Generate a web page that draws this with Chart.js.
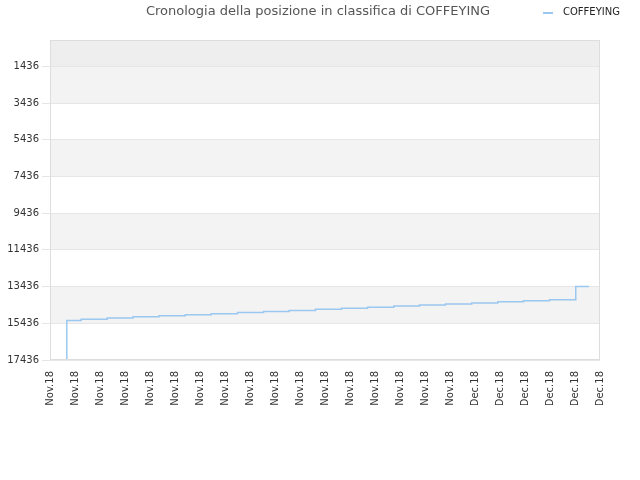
<!DOCTYPE html>
<html><head><meta charset="utf-8">
<script src="https://cdn.jsdelivr.net/npm/chart.js@4"></script>
<style>body{margin:0;background:#fff}</style>
</head><body><canvas id="c" width="640" height="480"></canvas>
<script>
const titleText = 'Cronologia della posizione in classifica di COFFEYING';
const xLabels = ["Nov.18","Nov.18","Nov.18","Nov.18","Nov.18","Nov.18","Nov.18","Nov.18","Nov.18","Nov.18","Nov.18","Nov.18","Nov.18","Nov.18","Nov.18","Nov.18","Nov.18","Dec.18","Dec.18","Dec.18","Dec.18","Dec.18","Dec.18"];
const xPos = [0.672,0.672,1.244,2.288,3.32,4.36,5.41,6.45,7.5,8.54,9.57,10.62,11.66,12.7,13.75,14.78,15.82,16.87,17.91,18.94,19.98,21.03,21.56];
const ranks = [17436,15357,15280,15220,15144,15084,15030,14970,14910,14850,14795,14735,14675,14620,14560,14500,14440,14385,14325,14265,14205,14150,13436];
const yTicks = [1436,3436,5436,7436,9436,11436,13436,15436,17436];
const bands = [[1,1436,'#eeeeee'],[1436,3436,'#f3f3f3'],[5436,7436,'#f3f3f3'],[9436,11436,'#f3f3f3'],[13436,15436,'#f3f3f3']];
const bandPlugin = {id:'bands',beforeDraw(ch){const {ctx,chartArea:a,scales:{y}}=ch;ctx.save();
 for(const [f,t,c] of bands){const p1=y.getPixelForValue(f),p2=y.getPixelForValue(t);ctx.fillStyle=c;ctx.fillRect(a.left,Math.min(p1,p2),a.right-a.left,Math.abs(p2-p1));}
 ctx.restore();},
 afterDraw(ch){const {ctx,chartArea:a}=ch;ctx.save();ctx.strokeStyle='#dddddd';ctx.lineWidth=1;ctx.strokeRect(a.left+0.5,a.top+0.5,a.right-a.left-1,a.bottom-a.top-1);
 ctx.fillStyle='#555';ctx.font='13px "DejaVu Sans"';ctx.textAlign='center';ctx.textBaseline='middle';ctx.fillText(titleText,318,12);
 ctx.strokeStyle='#9ac8f0';ctx.lineWidth=2;ctx.beginPath();ctx.moveTo(543,13);ctx.lineTo(553,13);ctx.stroke();
 ctx.fillStyle='#222';ctx.font='10px "DejaVu Sans"';ctx.textAlign='left';ctx.fillText(ch.data.datasets[0].label,563,12);
 ctx.restore();}};
new Chart(document.getElementById('c'),{type:'line',
data:{datasets:[{label:'COFFEYING',data:xPos.map((x,i)=>({x,y:ranks[i]})),borderColor:'#9ac8f0',backgroundColor:'#9ac8f0',borderWidth:1.5,pointRadius:0,stepped:'after',fill:false}]},
options:{responsive:false,animation:false,devicePixelRatio:1,
 layout:{padding:{left:0,right:40,top:40,bottom:75}},
 plugins:{title:{display:false},legend:{display:false},tooltip:{enabled:false}},
 scales:{x:{type:'linear',min:0,max:22,grid:{display:false},border:{display:false},
   afterBuildTicks(s){s.ticks=xLabels.map((l,i)=>({value:i}));},
   afterFit(s){s.height=45;},
   ticks:{autoSkip:false,maxRotation:90,minRotation:90,color:'#333',font:{family:'DejaVu Sans',size:10},callback:(v,i)=>xLabels[i]}},
  y:{reverse:true,min:1,max:17436,border:{display:false},grid:{color:'#e6e6e6'},
   afterBuildTicks(s){s.ticks=yTicks.map(v=>({value:v}));},
   afterFit(s){s.width=50;},
   ticks:{color:'#333',font:{family:'DejaVu Sans',size:10},callback:v=>String(v)}}}},
plugins:[bandPlugin]});
</script></body></html>
